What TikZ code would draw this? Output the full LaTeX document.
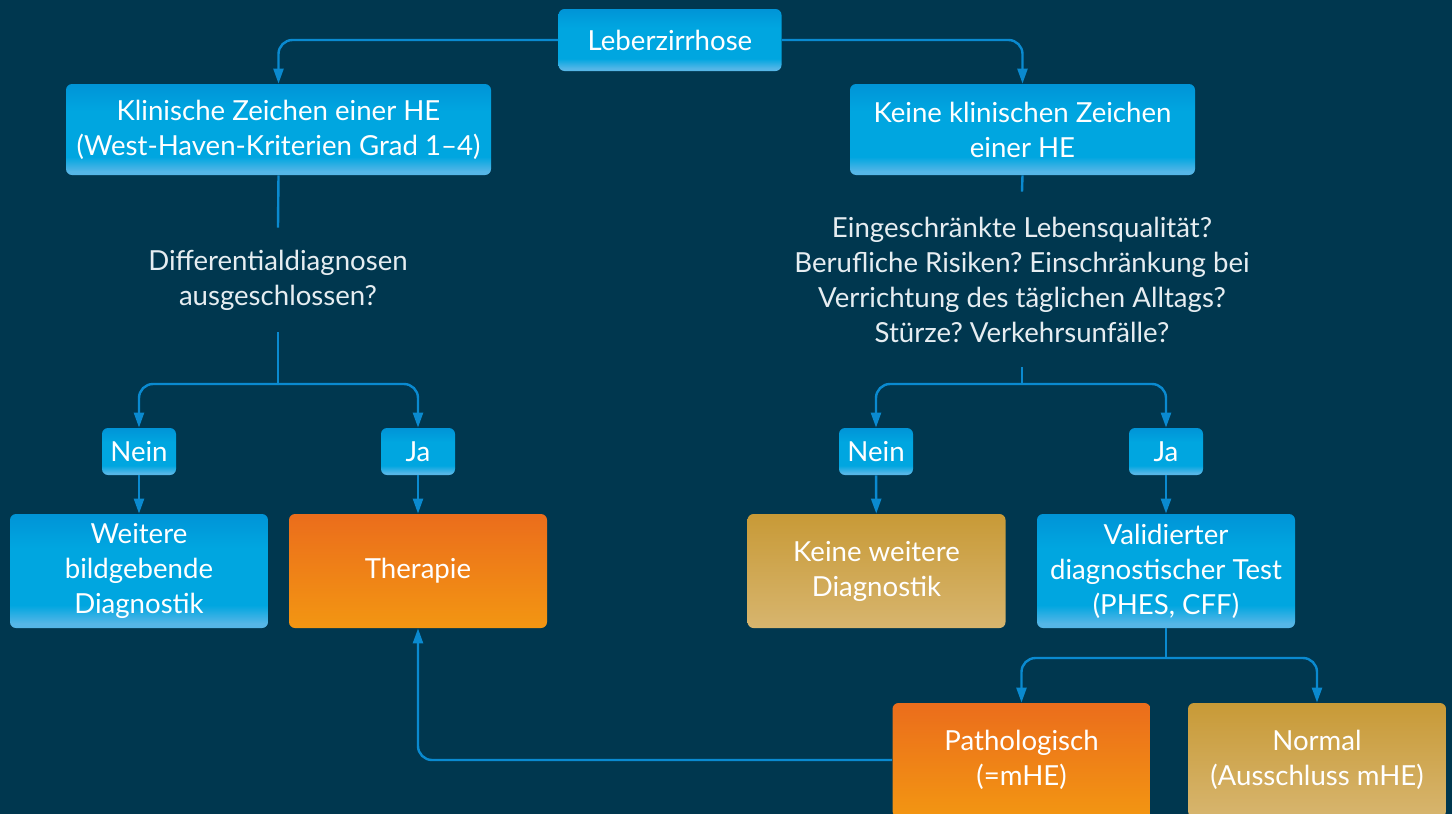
\documentclass[tikz,border=0pt]{standalone}
\usepackage{fontspec}
\setmainfont{Lato}
\usetikzlibrary{arrows.meta}
\frenchspacing

\definecolor{bg}{HTML}{00374F}
\definecolor{ln}{HTML}{0A8AD0}
\definecolor{qtext}{HTML}{E6EDF1}
\definecolor{blueTop}{HTML}{0094D7}
\definecolor{blueMid}{HTML}{00A6E0}
\definecolor{blueLow}{HTML}{55B6E7}
\definecolor{orTop}{HTML}{EB6D1C}
\definecolor{orLow}{HTML}{F39612}
\definecolor{goTop}{HTML}{C89A37}
\definecolor{goLow}{HTML}{D7B56E}

\pgfdeclareverticalshading{blueshade}{100bp}{color(0bp)=(blueLow); color(27bp)=(blueLow); color(35bp)=(blueMid); color(60bp)=(blueMid); color(75bp)=(blueTop); color(100bp)=(blueTop)}

\tikzset{
    box/.style={rounded corners=3pt, text=white, align=center, inner sep=2pt,
        font=\fontsize{13.8}{17.5}\selectfont},
    bluebox/.style={box, shading=blueshade},
    orbox/.style={box, top color=orTop, bottom color=orLow},
    gobox/.style={box, top color=goTop, bottom color=goLow},
    big/.style={minimum width=129pt, minimum height=57pt},
    small/.style={minimum width=37pt, minimum height=23.5pt},
    quest/.style={text=qtext, align=center, inner sep=0pt,
        font=\fontsize{13.8}{17.5}\selectfont},
    line/.style={draw=ln, line width=1.2pt},
    link/.style={line, rounded corners=7pt, -{Triangle[length=7.5pt,width=5pt]}}
}

\begin{document}
\begin{tikzpicture}[x=0.5pt,y=-0.5pt]
    \fill[bg] (0,0) rectangle (1452,814);
    \useasboundingbox (0,0) rectangle (1452,814);

    \node[bluebox, minimum width=111.5pt, minimum height=31pt] (lz) at (670,40) {Leberzirrhose};
    \node[bluebox, minimum width=212.5pt, minimum height=45.5pt] (klin) at (278.5,129.5)
        {Klinische Zeichen einer HE\\(West-Haven-Kriterien Grad 1--4)};
    \node[bluebox, minimum width=172.5pt, minimum height=45.5pt] (keine) at (1022.5,129.5)
        {Keine klinischen Zeichen\\einer HE};

    \node[quest, minimum height=52pt] (q1) at (278,280)
        {Differentialdiagnosen\\ausgeschlossen?};
    \node[quest, minimum height=87.5pt] (q2) at (1022,279.5)
        {Eingeschränkte Lebensqualität?\\Berufliche Risiken? Einschränkung bei\\Verrichtung des täglichen Alltags?\\Stürze? Verkehrsunfälle?};

    \coordinate (j1) at (278,384);
    \coordinate (j2) at (1022,384);
    \coordinate (j3) at (1166,658);

    \node[bluebox, small] (n1) at (139,451.5) {Nein};
    \node[bluebox, small] (y1) at (418,451.5) {Ja};
    \node[bluebox, small] (n2) at (876,451.5) {Nein};
    \node[bluebox, small] (y2) at (1166,451.5) {Ja};

    \node[bluebox, big] (weit) at (139,571) {Weitere\\bildgebende\\Diagnostik};
    \node[orbox, big] (ther) at (418,571) {Therapie};
    \node[gobox, big] (kw) at (876.5,571) {Keine weitere\\Diagnostik};
    \node[bluebox, big] (val) at (1166,571) {Validierter\\diagnostischer Test\\(PHES, CFF)};

    \node[orbox, big] (path) at (1021.5,760) {Pathologisch\\(=mHE)};
    \node[gobox, big] (norm) at (1317,760) {Normal\\(Ausschluss mHE)};

    \draw[link] (lz.west) -| (klin.north);
    \draw[link] (lz.east) -| (keine.north);
    \draw[line] (klin.south) -- (q1.north);
    \draw[line] (keine.south) -- (q2.north);
    \draw[line] (q1.south) -- (j1);
    \draw[line] (q2.south) -- (j2);
    \draw[link] (j1) -| (n1.north);
    \draw[link] (j1) -| (y1.north);
    \draw[link] (j2) -| (n2.north);
    \draw[link] (j2) -| (y2.north);
    \draw[link] (n1) -- (weit);
    \draw[link] (y1) -- (ther);
    \draw[link] (n2) -- (kw);
    \draw[link] (y2) -- (val);
    \draw[line] (val.south) -- (j3);
    \draw[link] (j3) -| (path.north);
    \draw[link] (j3) -| (norm.north);
    \draw[link] (path.west) -| (ther.south);
\end{tikzpicture}
\end{document}
